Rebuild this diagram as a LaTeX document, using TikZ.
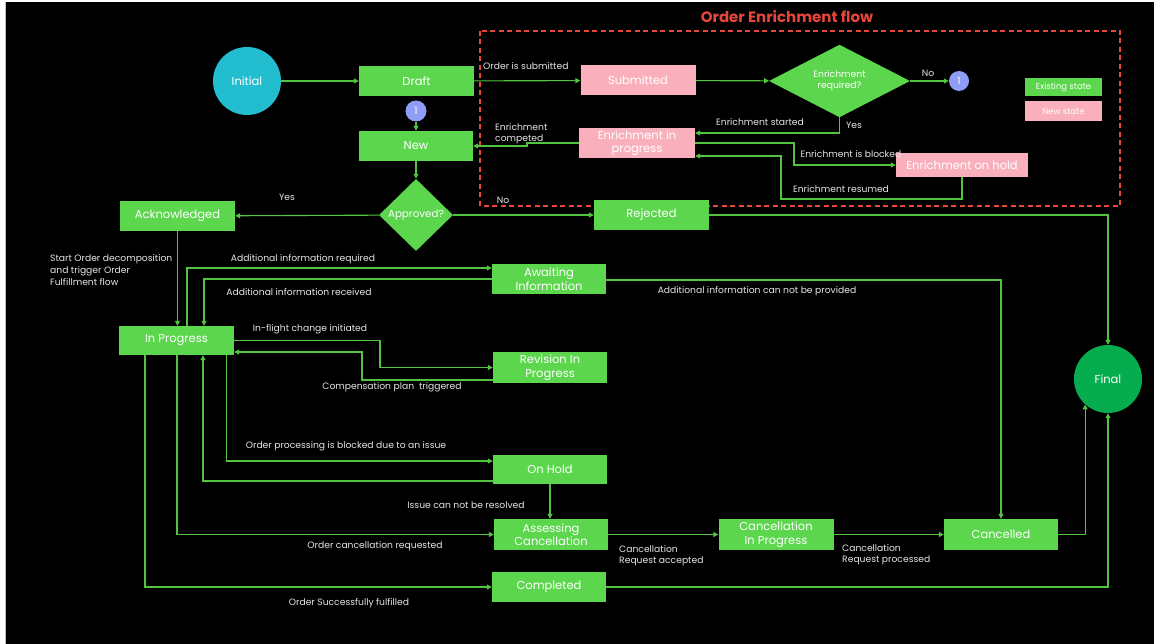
\documentclass[tikz,border=0pt]{standalone}
\usepackage{fontspec}
\setmainfont{Poppins}
\usetikzlibrary{arrows.meta,shapes.geometric,calc}
\definecolor{boxgreen}{HTML}{5CD64D}
\definecolor{boxpink}{HTML}{F9B0BC}
\definecolor{linegreen}{HTML}{52C43F}
\definecolor{lblgrey}{HTML}{E6E6E6}
\definecolor{initteal}{HTML}{22BDCF}
\definecolor{finalgreen}{HTML}{05AD4F}
\definecolor{onelav}{HTML}{8E9DF5}
\definecolor{titlered}{HTML}{E8453C}
\tikzset{
  gbox/.style={rectangle, fill=boxgreen, text=white, inner sep=0pt, align=center, font=\fontsize{11.5}{13.5}\selectfont},
  pbox/.style={gbox, fill=boxpink},
  gdia/.style={diamond, fill=boxgreen, text=white, inner sep=0pt, align=center},
  lbl/.style={text=lblgrey, font=\fontsize{9.2}{11.5}\selectfont, inner sep=0pt},
  arr/.style={draw=linegreen, line width=1.1pt, -{Triangle[length=5pt,width=5pt]}},
  onec/.style={circle, fill=onelav, text=white, inner sep=0pt, minimum size=21pt, font=\fontsize{10}{12}\selectfont},
}
\begin{document}
\begin{tikzpicture}[x=1pt,y=-1pt]
\useasboundingbox (0,0) rectangle (1154,644);
\fill[white] (0,0) rectangle (1154,644);
\fill[black] (6,2) rectangle (1154,644);
\draw[gray!50, line width=1.2pt] (5.4,2) -- (5.4,644);

% title and enrichment frame
\node[font=\fontsize{15}{17}\selectfont\bfseries, text=titlered] (title) at (787,17) {Order Enrichment flow};
\draw[titlered, line width=1.8pt, dash pattern=on 5pt off 3.5pt] (480,31) rectangle (1120,206);

% nodes
\node[circle, fill=initteal, text=white, minimum size=68pt, inner sep=0pt, font=\fontsize{11.5}{13}\selectfont] (init) at (247,81) {Initial};
\node[gbox, minimum width=115pt, minimum height=30pt] (draft) at (416.5,81) {Draft};
\node[onec] (one1) at (416,111) {1};
\node[gbox, minimum width=114pt, minimum height=30pt] (new) at (416,146) {New};
\node[gdia, minimum width=74pt, minimum height=72pt, font=\fontsize{10.3}{12}\selectfont] (appr) at (416,215) {Approved?};
\node[gbox, minimum width=115pt, minimum height=30pt] (ack) at (177.5,216) {Acknowledged};
\node[gbox, minimum width=115pt, minimum height=30pt] (rej) at (651.5,215) {Rejected};

\node[pbox, minimum width=115pt, minimum height=30pt] (sub) at (638,80.5) {Submitted};
\node[gdia, minimum width=141pt, minimum height=66pt, font=\fontsize{9.2}{11}\selectfont] (enr) at (839.5,81) {Enrichment\\required?};
\node[onec, minimum size=20pt] (one2) at (959,81) {1};
\node[gbox, minimum width=77pt, minimum height=18pt, font=\fontsize{8.5}{10}\selectfont] (leg1) at (1063.5,87.5) {Existing state};
\node[pbox, minimum width=77pt, minimum height=20pt, font=\fontsize{8.5}{10}\selectfont] (leg2) at (1063.5,111.5) {New state};
\node[pbox, minimum width=116pt, minimum height=30pt] (eip) at (637,143) {Enrichment in\\progress};
\node[pbox, minimum width=132pt, minimum height=24pt] (eoh) at (962,165) {Enrichment on hold};

\node[gbox, minimum width=115pt, minimum height=29pt] (ip) at (176.5,340.5) {In Progress};
\node[gbox, minimum width=114pt, minimum height=30pt] (ai) at (549,279) {Awaiting\\Information};
\node[gbox, minimum width=114pt, minimum height=31pt] (rip) at (550,367.5) {Revision In\\Progress};
\node[gbox, minimum width=114pt, minimum height=29pt] (oh) at (550,469.5) {On Hold};
\node[gbox, minimum width=114pt, minimum height=31pt] (ac) at (551,534.5) {Assessing\\Cancellation};
\node[gbox, minimum width=115pt, minimum height=31pt] (cip) at (776,534.5) {Cancellation\\In Progress};
\node[gbox, minimum width=114pt, minimum height=31pt] (canc) at (1001,534.5) {Cancelled};
\node[gbox, minimum width=114pt, minimum height=30pt] (comp) at (549,587) {Completed};
\node[circle, fill=finalgreen, text=white, minimum size=68pt, inner sep=0pt, font=\fontsize{11.5}{13}\selectfont] (final) at (1108,379) {Final};

% connectors
\draw[arr] (init) -- (draft);
\draw[arr] (draft) -- (sub);
\draw[arr] (sub) -- (enr);
\draw[arr] (enr) -- (one2);
\draw[arr] (one1) -- (new);
\draw[arr] (new) -- (appr);
\draw[arr] (appr) -- (ack);
\draw[arr] (appr) -- (rej);
\draw[arr] (enr.south) |- ([yshift=10pt]eip.east);
\draw[arr] (eip.west) -- (527,143) -- (527,146) -- (new.east);
\draw[arr] (eip.east) -- (794,143) |- (eoh.west);
\draw[arr] (eoh.south) -- (962,199) -| (781,156) -- ([yshift=-13pt]eip.east);
\draw[arr] (rej.east) -| (final.north);
\draw[arr] (ack.south) -- (ack.south |- ip.north);
\draw[arr] ([xshift=10.5pt]ip.north) |- ([yshift=11pt]ai.west);
\draw[arr] (ai.west) -| ([xshift=27.5pt]ip.north);
\draw[arr] (ip.east) -- (380,340.5) |- (rip.west);
\draw[arr] ([yshift=-12.5pt]rip.west) -- (362,380) |- ([yshift=-11.5pt]ip.east);
\draw[arr] ([xshift=50pt]ip.south) |- ([yshift=8.5pt]oh.west);
\draw[arr] ([yshift=-11.5pt]oh.west) -| ([xshift=26.5pt]ip.south);
\draw[arr] (oh.south) -- (oh.south |- ac.north);
\draw[arr] ([xshift=0.5pt]ip.south) |- (ac.west);
\draw[arr] ([xshift=-31.5pt]ip.south) |- (comp.west);
\draw[arr] ([yshift=-1pt]ai.east) -| (canc.north);
\draw[arr] (ac) -- (cip);
\draw[arr] (cip) -- (canc);
\draw[arr] (canc.east) -| (final.228.6);
\draw[arr] (comp.east) -| (final.south);

% labels
\node[lbl, anchor=west] (l1) at (483,66) {Order is submitted};
\node[lbl] (l2) at (928,73) {No};
\node[lbl] (l3) at (854,125) {Yes};
\node[lbl] (l4) at (760,122) {Enrichment started};
\node[lbl, anchor=west, align=left, font=\fontsize{9.2}{11}\selectfont] (l5) at (495,134) {Enrichment\\competed};
\node[lbl] (l6) at (851,154) {Enrichment is blocked};
\node[lbl] (l7) at (841,189) {Enrichment resumed};
\node[lbl] (l8) at (287,197) {Yes};
\node[lbl] (l9) at (503,200) {No};
\node[lbl, anchor=north west, align=left, font=\fontsize{9.2}{12}\selectfont] (l10) at (50,254) {Start Order decomposition\\and trigger Order\\Fulfillment flow};
\node[lbl] (l11) at (303,259) {Additional information required};
\node[lbl] (l12) at (299,292) {Additional information received};
\node[lbl] (l13) at (310,329) {In-flight change initiated};
\node[lbl] (l14) at (392,387) {Compensation plan~ triggered};
\node[lbl] (l15) at (346,446) {Order processing is blocked due to an issue};
\node[lbl] (l16) at (466,505) {Issue can not be resolved};
\node[lbl] (l17) at (375,546) {Order cancellation requested};
\node[lbl] (l18) at (349,603) {Order Successfully fulfilled};
\node[lbl] (l19) at (757,291) {Additional information can not be provided};
\node[lbl, anchor=north west, align=left] (l20) at (619,545) {Cancellation\\Request accepted};
\node[lbl, anchor=north west, align=left] (l21) at (842,544) {Cancellation\\Request processed};
\end{tikzpicture}
\end{document}
